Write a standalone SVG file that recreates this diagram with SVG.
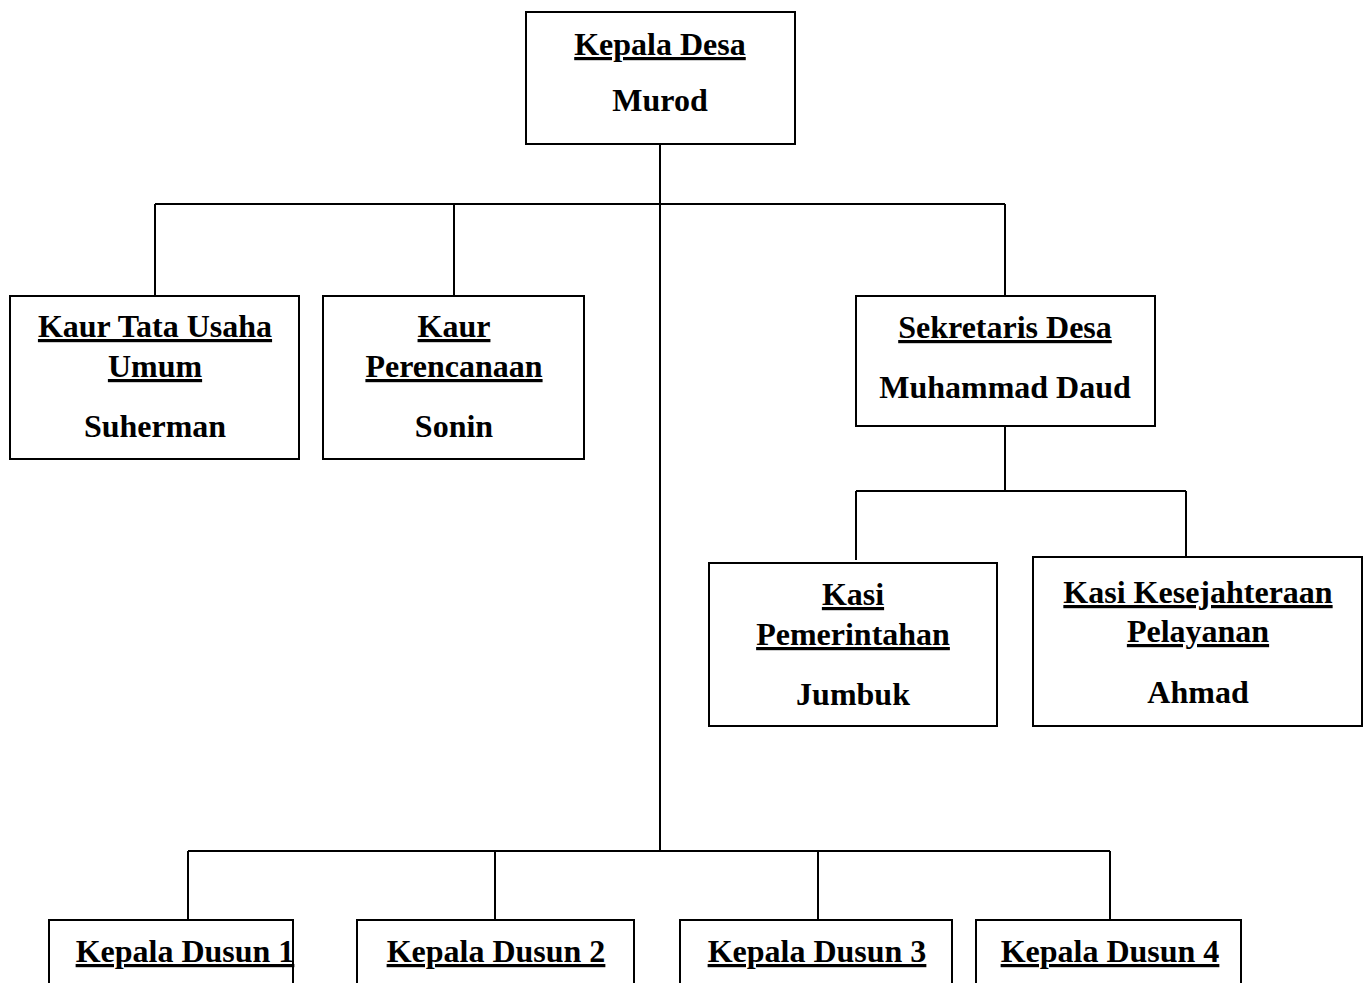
<svg xmlns="http://www.w3.org/2000/svg" width="1363" height="983" viewBox="0 0 1363 983">
<style>
.box{fill:#fff;stroke:#000;stroke-width:2}
.ln{stroke:#000;stroke-width:2;fill:none}
text{font-family:"Liberation Serif","Times New Roman",serif;font-weight:bold;font-size:32px;text-anchor:middle;fill:#000}
.u{text-decoration:underline}
</style>
<rect width="1363" height="983" fill="#fff"/>
<g id="connectors">
<path class="ln" d="M660,144 V851"/>
<path class="ln" d="M155,204 H1005 M155,204 V296 M454,204 V296 M1005,204 V296"/>
<path class="ln" d="M1005,426 V491 M856,491 H1186 M856,491 V560 M1186,491 V557"/>
<path class="ln" d="M188,851 H1110 M188,851 V920 M495,851 V920 M818,851 V920 M1110,851 V920"/>
</g>
<g id="kepala-desa">
<rect class="box" x="526" y="12" width="269" height="132"/>
<text class="u" x="660" y="55">Kepala Desa</text>
<text x="660" y="111">Murod</text>
</g>
<g id="kaur-tu">
<rect class="box" x="10" y="296" width="289" height="163"/>
<text class="u" x="155" y="337">Kaur Tata Usaha</text>
<text class="u" x="155" y="377">Umum</text>
<text x="155" y="437">Suherman</text>
</g>
<g id="kaur-perencanaan">
<rect class="box" x="323" y="296" width="261" height="163"/>
<text class="u" x="454" y="337">Kaur</text>
<text class="u" x="454" y="377">Perencanaan</text>
<text x="454" y="437">Sonin</text>
</g>
<g id="sekretaris">
<rect class="box" x="856" y="296" width="299" height="130"/>
<text class="u" x="1005" y="338">Sekretaris Desa</text>
<text x="1005" y="398">Muhammad Daud</text>
</g>
<g id="kasi-pemerintahan">
<rect class="box" x="709" y="563" width="288" height="163"/>
<text class="u" x="853" y="605">Kasi</text>
<text class="u" x="853" y="645">Pemerintahan</text>
<text x="853" y="705">Jumbuk</text>
</g>
<g id="kasi-kesejahteraan">
<rect class="box" x="1033" y="557" width="329" height="169"/>
<text class="u" x="1198" y="603">Kasi Kesejahteraan</text>
<text class="u" x="1198" y="642">Pelayanan</text>
<text x="1198" y="703">Ahmad</text>
</g>
<g id="dusun1">
<rect class="box" x="49" y="920" width="244" height="80"/>
<text class="u" x="185" y="962">Kepala Dusun 1</text>
</g>
<g id="dusun2">
<rect class="box" x="357" y="920" width="277" height="80"/>
<text class="u" x="496" y="962">Kepala Dusun 2</text>
</g>
<g id="dusun3">
<rect class="box" x="680" y="920" width="272" height="80"/>
<text class="u" x="817" y="962">Kepala Dusun 3</text>
</g>
<g id="dusun4">
<rect class="box" x="976" y="920" width="265" height="80"/>
<text class="u" x="1110" y="962">Kepala Dusun 4</text>
</g>
</svg>
